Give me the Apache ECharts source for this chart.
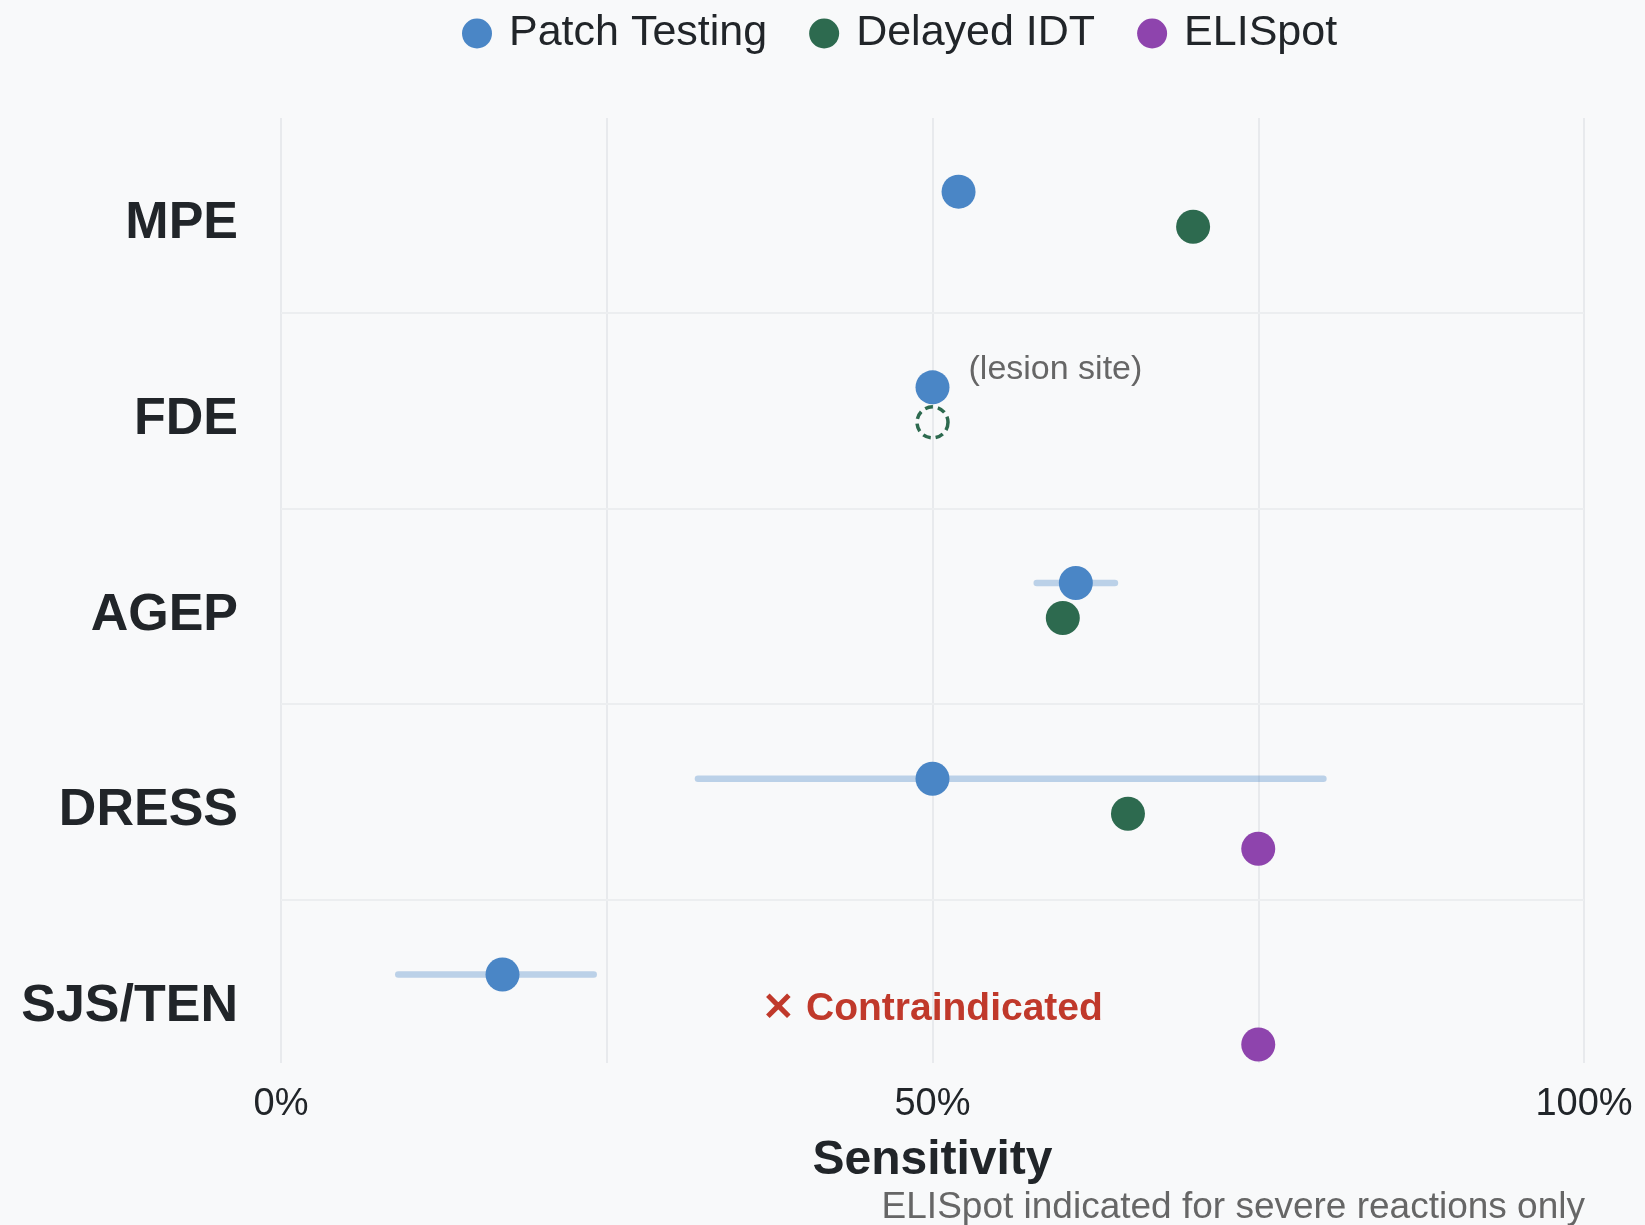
<!DOCTYPE html>
<html>
<head>
<meta charset="utf-8">
<title>Sensitivity by reaction type</title>
<script src="https://cdn.jsdelivr.net/npm/echarts@6/dist/echarts.min.js"></script>
<style>
  html, body { margin: 0; padding: 0; background: #f8f9fa; }
  #chart { width: 1645px; height: 1225px; }
</style>
</head>
<body>
<div id="chart"></div>
<script>
  // reaction types, top to bottom
  const categories = ['MPE', 'FDE', 'AGEP', 'DRESS', 'SJS/TEN'];

  // sensitivity (%) per reaction type, null = not shown
  const patchTesting = [52, 50, 61, 50, 17];
  const patchLow = [null, null, 58, 32, 9];
  const patchHigh = [null, null, 64, 80, 24];
  const patchNotes = [null, '(lesion site)', null, null, null];

  const delayedIdt = [70, 50, 60, 65, null];
  const idtUncertain = [false, true, false, false, false];
  const idtContraindicated = [false, false, false, false, true];

  const elispot = [null, null, null, 75, 75];

  const xTickLabels = [0, 50, 100];

  const FONT = '"Liberation Sans", Arial, Helvetica, sans-serif';
  const DARK = '#212529';
  const GREY = '#666666';
  const BLUE = '#4a86c6';
  const GREEN = '#2d6a4f';
  const PURPLE = '#8e44ad';
  const RED = '#c0392b';

  // vertical placement of each method row inside a category band
  const ROW = { patch: -0.148, idt: 0.031, eli: 0.21 };
  const SEP = 0.47; // band separators sit between categories
  const CONTRA_X = 50;

  const patchData = [];
  const barData = [];
  const idtData = [];
  const eliData = [];

  categories.forEach(function (c, i) {
    if (patchTesting[i] != null) {
      const item = { value: [patchTesting[i], i + ROW.patch] };
      if (patchNotes[i]) {
        item.label = {
          show: true,
          position: 'right',
          offset: [14, -18],
          formatter: patchNotes[i],
          color: GREY,
          fontSize: 34,
          fontFamily: FONT
        };
      }
      patchData.push(item);
    }
    if (patchLow[i] != null) {
      barData.push([patchLow[i], patchHigh[i], i + ROW.patch]);
    }
    if (delayedIdt[i] != null) {
      const item = { value: [delayedIdt[i], i + ROW.idt] };
      if (idtUncertain[i]) {
        item.symbolSize = 31;
        item.itemStyle = {
          color: 'rgba(0,0,0,0)',
          borderColor: GREEN,
          borderWidth: 3.5,
          borderType: [8, 5]
        };
      }
      idtData.push(item);
    }
    if (idtContraindicated[i]) {
      idtData.push({
        value: [CONTRA_X, i + ROW.idt],
        symbolSize: 0,
        label: {
          show: true,
          position: 'inside',
          formatter: '✕ Contraindicated',
          color: RED,
          fontSize: 39,
          fontWeight: 'bold',
          fontFamily: FONT
        }
      });
    }
    if (elispot[i] != null) {
      eliData.push([elispot[i], i + ROW.eli]);
    }
  });

  const chart = echarts.init(document.getElementById('chart'));
  const option = {
    backgroundColor: '#f8f9fa',
    animation: false,
    textStyle: { fontFamily: FONT },
    legend: {
      data: ['Patch Testing', 'Delayed IDT', 'ELISpot'],
      left: 462,
      top: 12,
      padding: 0,
      icon: 'circle',
      itemWidth: 54,
      itemHeight: 30,
      itemGap: 42,
      symbolKeepAspect: true,
      textStyle: { fontSize: 43, color: DARK, fontFamily: FONT }
    },
    grid: [
      { left: 281, right: 61, top: 118, bottom: 162 },
      { left: 281, right: 61, top: 126, bottom: 120.5 }
    ],
    xAxis: [
      {
        type: 'value',
        gridIndex: 0,
        min: 0,
        max: 100,
        interval: 25,
        name: 'Sensitivity',
        nameLocation: 'middle',
        nameGap: 74,
        nameTextStyle: { fontSize: 48, fontWeight: 'bold', color: DARK, fontFamily: FONT },
        axisLine: { show: false },
        axisTick: { show: false },
        axisLabel: {
          margin: 23,
          fontSize: 38,
          color: DARK,
          fontFamily: FONT,
          formatter: function (v) {
            return xTickLabels.indexOf(v) >= 0 ? v + '%' : '';
          }
        },
        splitLine: { show: true, lineStyle: { color: '#e8eaed', width: 2 } }
      },
      { type: 'value', gridIndex: 1, show: false, min: 0, max: 100 }
    ],
    yAxis: [
      {
        type: 'value',
        gridIndex: 0,
        inverse: true,
        min: -0.5243,
        max: 4.3045,
        show: false,
        splitLine: { show: false }
      },
      {
        type: 'category',
        gridIndex: 1,
        inverse: true,
        data: categories,
        axisLine: { show: false },
        axisTick: { show: false },
        splitLine: { show: false },
        axisLabel: {
          margin: 43,
          fontSize: 52,
          fontWeight: 'bold',
          color: DARK,
          fontFamily: FONT
        }
      }
    ],
    series: [
      {
        name: 'Patch CI',
        type: 'custom',
        xAxisIndex: 0,
        yAxisIndex: 0,
        z: 1,
        silent: true,
        data: barData,
        renderItem: function (params, api) {
          const y = api.value(2);
          const p1 = api.coord([api.value(0), y]);
          const p2 = api.coord([api.value(1), y]);
          return {
            type: 'line',
            shape: { x1: p1[0], y1: p1[1], x2: p2[0], y2: p2[1] },
            style: { stroke: 'rgba(74,134,198,0.35)', lineWidth: 6.5, lineCap: 'round' }
          };
        },
        markLine: {
          silent: true,
          symbol: ['none', 'none'],
          label: { show: false },
          lineStyle: { color: '#eceef0', width: 2, type: 'solid' },
          data: categories.slice(1).map(function (c, i) { return { yAxis: i + SEP }; })
        }
      },
      {
        name: 'Patch Testing',
        type: 'scatter',
        z: 3,
        symbolSize: 34,
        itemStyle: { color: BLUE, opacity: 1 },
        data: patchData
      },
      {
        name: 'Delayed IDT',
        type: 'scatter',
        z: 3,
        symbolSize: 34,
        itemStyle: { color: GREEN, opacity: 1 },
        data: idtData
      },
      {
        name: 'ELISpot',
        type: 'scatter',
        z: 3,
        symbolSize: 34,
        itemStyle: { color: PURPLE, opacity: 1 },
        data: eliData
      }
    ],
    graphic: [
      {
        type: 'text',
        right: 60,
        top: 1189,
        style: {
          text: 'ELISpot indicated for severe reactions only',
          fontSize: 37,
          fontFamily: FONT,
          fill: GREY
        }
      }
    ]
  };
  chart.setOption(option);
</script>
</body>
</html>
